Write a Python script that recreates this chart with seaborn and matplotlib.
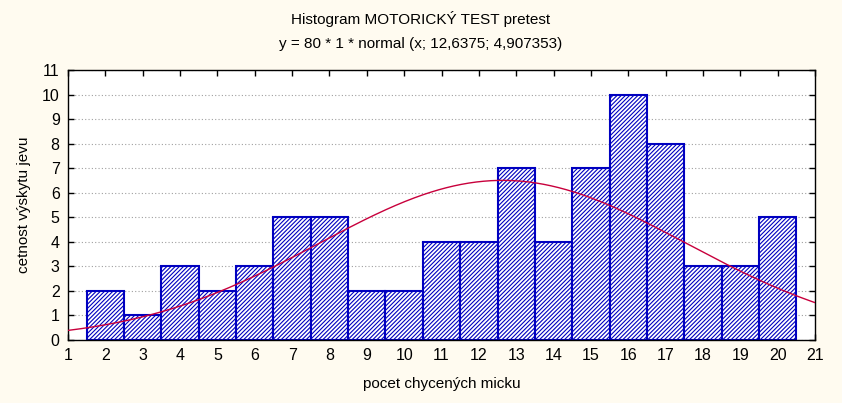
import numpy as np
import pandas as pd
import matplotlib
matplotlib.use("Agg")
import matplotlib.pyplot as plt
import seaborn as sns

# Data
categories = [2, 3, 4, 5, 6, 7, 8, 9, 10, 11, 12, 13, 14, 15, 16, 17, 18, 19, 20]
counts = [2, 1, 3, 2, 3, 5, 5, 2, 2, 4, 4, 7, 4, 7, 10, 8, 3, 3, 5]
x_ticks = list(range(1, 22))
y_ticks = list(range(0, 12))
# Fitted normal curve parameters (from the subtitle)
n_obs = 80
bin_width = 1
mean = 12.6375
sd = 4.907353

bg = "#FFFBF0"
sns.set_theme(style="white")
plt.rcParams["font.family"] = ["Liberation Sans", "DejaVu Sans"]
plt.rcParams["hatch.color"] = "#0000C0"
plt.rcParams["hatch.linewidth"] = 0.8

fig = plt.figure(figsize=(8.42, 4.03), dpi=100, facecolor=bg)
ax = fig.add_axes([68 / 842, 1 - 340 / 403, (815 - 68) / 842, (340 - 70) / 403])
ax.set_facecolor("white")

df = pd.DataFrame({"x": categories, "count": counts})
sns.histplot(data=df, x="x", weights="count", discrete=True, ax=ax,
             fill=True, facecolor="white", edgecolor="#0000C0", linewidth=1.5,
             hatch="/" * 8, alpha=1, zorder=2)

xs = np.linspace(x_ticks[0], x_ticks[-1], 400)
ys = n_obs * bin_width * np.exp(-0.5 * ((xs - mean) / sd) ** 2) / (sd * np.sqrt(2 * np.pi))
sns.lineplot(x=xs, y=ys, ax=ax, color="#C8003C", linewidth=1.0, zorder=3)

ax.set_xlim(x_ticks[0], x_ticks[-1])
ax.set_ylim(y_ticks[0], y_ticks[-1])
ax.set_xticks(x_ticks)
ax.set_yticks(y_ticks)
ax.tick_params(axis="both", direction="in", length=4, width=1, color="black",
               labelsize=11.5, labelcolor="black", top=True, right=True, bottom=True, left=True, pad=6)
ax.yaxis.grid(True, linestyle=(0, (1, 2)), color="#A0A0A0", linewidth=0.8, zorder=0)
ax.set_axisbelow(True)
for s in ax.spines.values():
    s.set_color("black")
    s.set_linewidth(1.0)
    s.set_visible(True)

ax.set_xlabel("pocet chycených micku", fontsize=11, color="black", labelpad=10)
ax.set_ylabel("cetnost výskytu jevu", fontsize=11, color="black", labelpad=8)
fig.text(0.5, 1 - 19 / 403, "Histogram MOTORICKÝ TEST pretest", ha="center", va="center", fontsize=11, color="black")
fig.text(0.5, 1 - 44 / 403, "y = 80 * 1 * normal (x; 12,6375; 4,907353)", ha="center", va="center", fontsize=11, color="black")

fig.savefig("out.png", dpi=100, facecolor=bg)
